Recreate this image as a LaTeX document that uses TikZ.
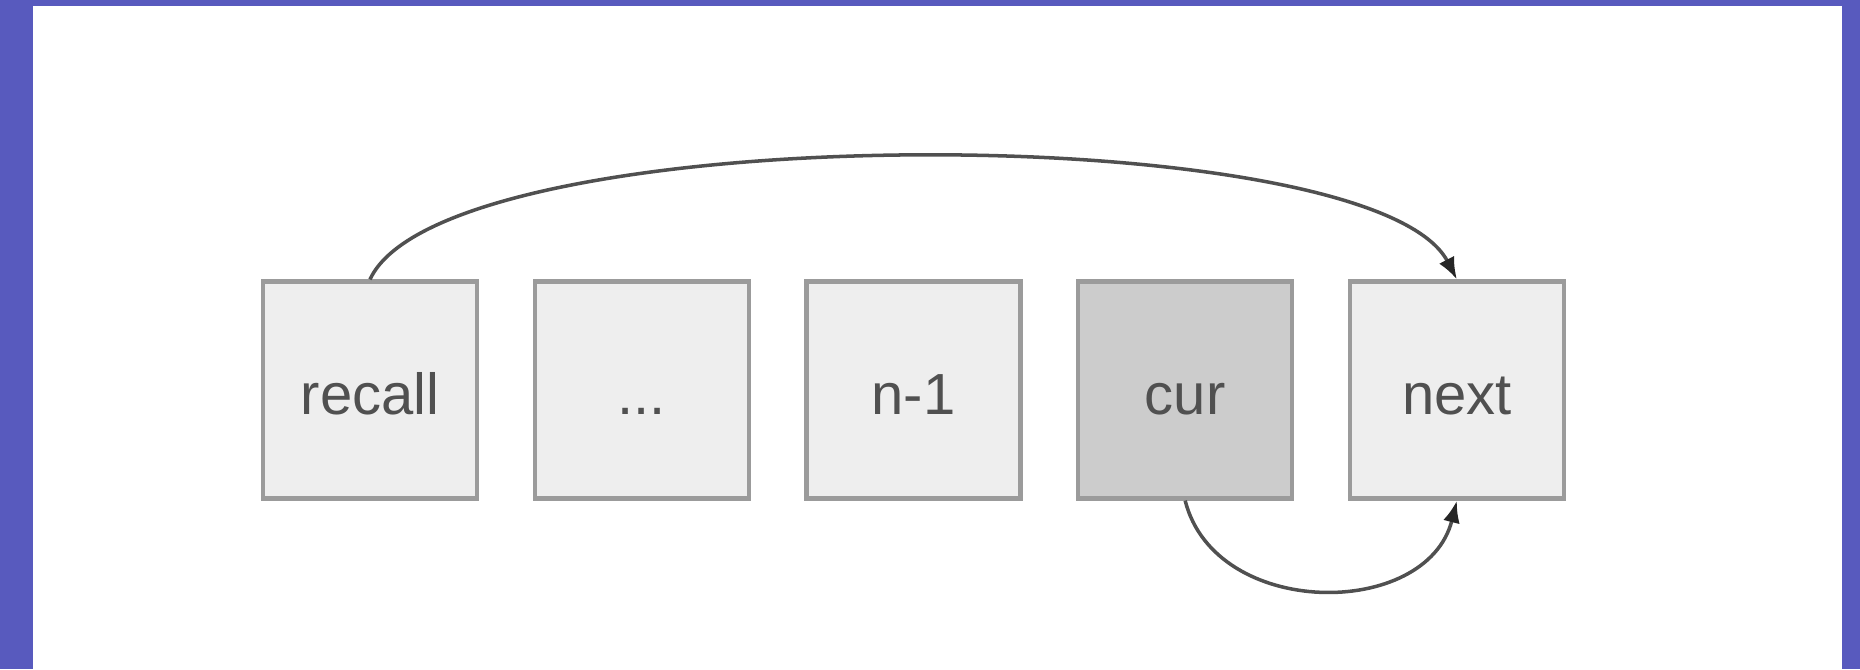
\documentclass[tikz,border=0pt]{standalone}
\usepackage{fontspec}
\setmainfont{Liberation Sans}
\usetikzlibrary{positioning,arrows.meta}
\definecolor{slidepurple}{RGB}{88,90,190}
\definecolor{cellgray}{RGB}{238,238,238}
\definecolor{curgray}{RGB}{204,204,204}
\definecolor{edgegray}{RGB}{155,155,155}
\definecolor{inkgray}{RGB}{80,80,80}

\tikzset{
  cell/.style={draw=edgegray, line width=1.2pt, fill=cellgray,
    minimum width=2.14cm, minimum height=2.17cm, inner sep=0pt,
    text height=4.9mm, text depth=0mm,
    text=inkgray, font=\fontsize{16.5}{20}\selectfont},
  link/.style={draw=inkgray, line width=1pt,
    -{Latex[length=2.2mm,width=1.7mm,color=black!85]}}
}

\begin{document}
\begin{tikzpicture}
% frame
\fill[slidepurple] (0,0) rectangle (18.6,6.69);
\fill[white] (0.33,0) rectangle (18.42,6.63);
\useasboundingbox (0,0) rectangle (18.6,6.69);

% the row of cells
\node[cell] (recall) at (3.70,2.79) {recall};
\node[cell, right=0.535cm of recall] (dots) {...};
\node[cell, right=0.535cm of dots] (prev) {n-1};
\node[cell, fill=curgray, right=0.535cm of prev] (cur) {cur};
\node[cell, right=0.535cm of cur] (next) {next};

% links
\draw[link] (recall.north) .. controls +(0.75,1.63) and +(-0.85,1.63) .. (next.north);
\draw[link] (cur.south) .. controls +(0.3,-1.19) and +(-0.3,-1.19) .. (next.south);
\end{tikzpicture}
\end{document}
